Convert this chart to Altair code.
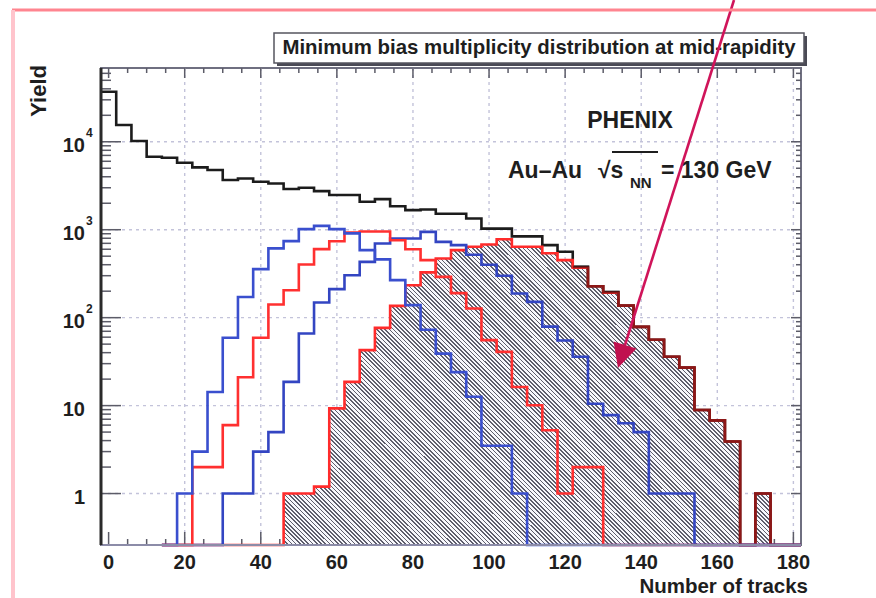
import altair as alt
import numpy as np
import pandas as pd

# Histogram binning: 4-track bins, first edge at -2
BIN_WIDTH = 4
FIRST_EDGE = -2
N_BINS = 46

# Minimum-bias multiplicity distribution (all events), counts per bin
min_bias = [37000, 15500, 10200, 6760, 6580, 5770, 5110, 4770, 3670, 3830,
            3510, 3360, 2900, 3000, 2750, 2480, 2480, 2080, 2230, 1850,
            1670, 1700, 1520, 1520, 1340, 1030, 1030, 840, 840, 668,
            561, 378, 228, 195, 137, 78.6, 56, 36, 27, 8.9,
            6.8, 3.9, 0, 1, 0, 0]

# Centrality classes (peripheral -> central)
class_a = [0, 0, 0, 0, 0, 1, 3, 14.3, 59, 172,
           356, 613, 742, 1016, 1107, 1016, 908, 586, 460, 267,
           139, 73, 39, 24, 12.6, 3.5, 3.5, 1] + [0] * 18
class_b = [0] * 6 + [2, 2, 6, 21, 59, 141, 205, 403, 601, 740,
                     930, 955, 955, 760, 600, 451, 291, 190, 127, 55.5,
                     40.8, 16.3, 10.1, 5.25, 1, 2, 2] + [0] * 13
class_c = [0] * 8 + [1, 1, 3, 5, 18.6, 66, 149, 211, 304, 431,
                     698, 796, 796, 946, 728, 668, 520, 400, 300, 188,
                     151, 79, 55, 36, 10.5, 7.8, 6.3, 5, 1, 1,
                     1] + [0] * 7
class_d = [0] * 12 + [1, 1, 1.2, 9.3, 18.6, 42.7, 76.5, 136, 234, 327,
                      471, 586, 640, 680, 780, 640, 640, 540, 451, 370,
                      228, 192, 137, 78.6, 56, 36, 27, 8.9, 6.8, 3.9,
                      0, 1, 0, 0]

# Axis ticks and labels
x_major = list(range(0, 181, 20))
x_minor = [v for v in range(0, 181, 5) if v % 20]
x_grid = list(range(20, 181, 20))
x_labels = [str(v) for v in x_major]
y_major = [1, 10, 100, 1000, 10000]
y_minor = [m * 10 ** e for e in range(0, 5) for m in range(2, 10) if m * 10 ** e < 69000]
y_label_base = ["1", "10", "10", "10", "10"]
y_label_exp = ["", "", "2", "3", "4"]

W, H = 700, 477
FONT = "Liberation Sans"
INK = "#1e1e1e"

edges = FIRST_EDGE + BIN_WIDTH * np.arange(N_BINS + 1)


def step_frame(values, lo=0, hi=N_BINS):
    xs = list(edges[lo:hi + 1])
    ys = list(values[lo:hi]) + [values[hi - 1]]
    ys = [v if v > 0 else 1e-3 for v in ys]  # empty bins sit on the axis floor
    return pd.DataFrame({"tracks": xs, "count": ys})


x_scale = alt.Scale(domain=[-2, 182], nice=False, zero=False)
y_scale = alt.Scale(type="log", domain=[0.26, 69000], nice=False, clamp=True)


def X(field):
    return alt.X(field, scale=x_scale, axis=None)


def Y(field):
    return alt.Y(field, scale=y_scale, axis=None)


def hist_line(values, color, lo=0, hi=N_BINS, width=2.6, opacity=1.0):
    return alt.Chart(step_frame(values, lo, hi)).mark_line(
        interpolate="step-after", color=color, strokeWidth=width, opacity=opacity
    ).encode(x=X("tracks:Q"), y=Y("count:Q"))


def hatch_gradient(w, h, period=4.2, dark_frac=0.4, dark="#5e5e6c", light="#f7f7fc"):
    # diagonal stripes "\\" built from a banded linear gradient over the bbox
    a = (w + h) / (w * w + h * h)
    n = int((w + h) / period)
    stops = []
    for i in range(n):
        o0, o1, o2 = i / n, (i + dark_frac) / n, (i + 1) / n
        stops += [
            {"offset": o0, "color": dark},
            {"offset": o1, "color": dark},
            {"offset": o1, "color": light},
            {"offset": o2, "color": light},
        ]
    return {"gradient": "linear", "x1": 0, "y1": 1, "x2": a * w, "y2": 1 - a * h, "stops": stops}


def text(label, x, y, size, align="left", baseline="alphabetic", angle=0, weight="bold", color=INK):
    return alt.Chart(pd.DataFrame({"t": [label]})).mark_text(
        font=FONT, fontSize=size, fontWeight=weight, align=align, baseline=baseline,
        angle=angle, color=color
    ).encode(text="t:N", x=alt.value(x), y=alt.value(y))


def seg(x, x2, y, y2, color, width):
    return alt.Chart(pd.DataFrame({"k": [0]})).mark_rule(color=color, strokeWidth=width).encode(
        x=alt.value(x), x2=alt.value(x2), y=alt.value(y), y2=alt.value(y2))


def box(x, x2, y, y2, fill, stroke=None, width=0):
    kw = {"fill": fill}
    if stroke:
        kw.update(stroke=stroke, strokeWidth=width)
    return alt.Chart(pd.DataFrame({"k": [0]})).mark_rect(**kw).encode(
        x=alt.value(x), x2=alt.value(x2), y=alt.value(y), y2=alt.value(y2))


# Dotted grid
grid_v = alt.Chart(pd.DataFrame({"v": x_grid})).mark_rule(
    color="#c3c3da", strokeWidth=1.4, strokeDash=[3, 4]
).encode(x=X("v:Q"), y=alt.value(0), y2=alt.value(H))
grid_h = alt.Chart(pd.DataFrame({"v": y_major})).mark_rule(
    color="#c3c3da", strokeWidth=1.4, strokeDash=[3, 4]
).encode(y=Y("v:Q"), x=alt.value(0), x2=alt.value(W))


def x_ticks(vals, y0, y1):
    return alt.Chart(pd.DataFrame({"v": vals})).mark_rule(color="#5c5c68", strokeWidth=1.5).encode(
        x=X("v:Q"), y=alt.value(y0), y2=alt.value(y1))


def y_ticks(vals, x0, x1):
    return alt.Chart(pd.DataFrame({"v": vals})).mark_rule(color="#5c5c68", strokeWidth=1.5).encode(
        y=Y("v:Q"), x=alt.value(x0), x2=alt.value(x1))


ticks = [
    x_ticks(x_major, H, H - 13), x_ticks(x_minor, H, H - 6),
    x_ticks(x_major, 0, 10), x_ticks(x_minor, 0, 5),
    y_ticks(y_major, 0, 20), y_ticks(y_minor, 0, 10),
    y_ticks(y_major, W, W - 10), y_ticks(y_minor, W, W - 5),
]

# Axis lines
axis_lines = [
    seg(0, W, H, H, "#8c8ca8", 2),
    seg(0, 0, 0, H, "#2a2a2a", 3),
]

# Tick labels
x_tick_text = alt.Chart(pd.DataFrame({"v": x_major, "lab": x_labels})).mark_text(
    font=FONT, fontSize=20, fontWeight="bold", color=INK, align="center", baseline="alphabetic"
).encode(x=X("v:Q"), y=alt.value(H + 24), text="lab:N")
y_tick_text = alt.Chart(pd.DataFrame({"v": y_major, "lab": y_label_base})).mark_text(
    font=FONT, fontSize=20, fontWeight="bold", color=INK, align="right", baseline="alphabetic", dy=10
).encode(y=Y("v:Q"), x=alt.value(-16), text="lab:N")
y_tick_exp = alt.Chart(pd.DataFrame({"v": y_major, "lab": y_label_exp})).mark_text(
    font=FONT, fontSize=12, fontWeight="bold", color=INK, align="left", baseline="alphabetic", dy=-5
).encode(y=Y("v:Q"), x=alt.value(-15), text="lab:N")

# Hatched most-central class
d_lo, d_hi = 12, 44
hatch = alt.Chart(step_frame(class_d, d_lo, d_hi)).mark_area(
    interpolate="step-after", fill=hatch_gradient(487, 306)
).encode(x=X("tracks:Q"), y=Y("count:Q"), y2=alt.value(H))

curves = [
    hist_line(min_bias, "#1c1c1c"),
    hist_line(class_d, "#ff2b2b", lo=4),
    hist_line(min_bias, "#000000", lo=31, opacity=0.45),
    hist_line(class_c, "#3345c2", lo=4),
    hist_line(class_b, "#ff3030", lo=4),
    hist_line(class_a, "#3a4fce", lo=4),
]

title_box = [
    box(176, 706, -32, -2, "#4a4a55"),
    box(173, 703, -35, -5, "#ffffff", "#55555f", 1.5),
    text("Minimum bias multiplicity distribution at mid-rapidity", 438, -14, 20.4, align="center"),
]

labels = [
    text("PHENIX", 529, 60, 23, align="center"),
    text("Au–Au", 407, 110, 23),
    text("√s", 497, 110, 23),
    text("NN", 529, 120, 15),
    text("= 130 GeV", 560, 110, 23),
    seg(511, 557, 84, 84, INK, 2),
    text("Yield", -62, -3, 22, align="right", baseline="middle", angle=270),
    text("Number of tracks", 707, H + 48, 20.5, align="right"),
]

arrow = [
    seg(633, 524, -68, 277, "#d0145a", 2.6),
    alt.Chart(pd.DataFrame({"k": [0]})).mark_point(
        shape="M0,1L-1,-1L1,-1Z", filled=True, size=576, angle=17, color="#c0104f", opacity=1
    ).encode(x=alt.value(520.5), y=alt.value(288.5)),
]

frame = [
    seg(-89, W + 75, -58, -58, "#ff8590", 3),
    seg(-88, -88, -58, H + 53, "#ffc4cc", 4),
]

chart = alt.layer(
    grid_v, grid_h, *ticks, hatch, *curves, *axis_lines,
    x_tick_text, y_tick_text, y_tick_exp,
    *title_box, *labels, *arrow, *frame
).properties(
    width=W, height=H,
    autosize=alt.AutoSizeParams(type="none"),
    padding={"left": 101, "top": 68, "right": 75, "bottom": 53},
).configure_view(
    stroke="#6f6f80", strokeWidth=2
)

chart.save("out.html", embed_options={"renderer": "svg", "actions": False})
